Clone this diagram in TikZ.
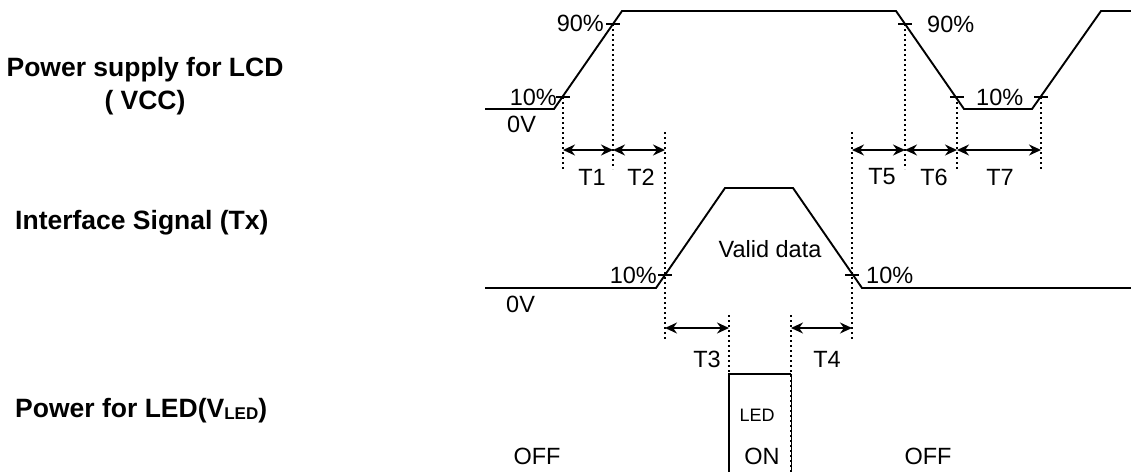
\documentclass[tikz,border=0pt]{standalone}
\usepackage{fontspec}
\setmainfont{Liberation Sans}
\usetikzlibrary{arrows.meta,positioning}

\begin{document}
\begin{tikzpicture}[
    x=1pt, y=-1pt,
    signal/.style={line width=1.9pt, line join=miter},
    guide/.style={line width=1.8pt, dash pattern=on 1.8pt off 3.2pt},
    tick/.style={line width=1.4pt},
    span/.style={{Stealth[length=12pt,width=11pt]}-{Stealth[length=12pt,width=11pt]}, line width=1.6pt},
    lbl/.style={font=\fontsize{23.5}{25}\selectfont, inner sep=0pt},
    small/.style={font=\fontsize{18}{19}\selectfont, inner sep=0pt},
    title/.style={font=\fontsize{26.5}{33}\selectfont\bfseries, inner sep=0pt, align=center}
]
    \useasboundingbox (0,0) rectangle (1131,471);

    % Row titles
    \node[title] (vcctitle) at (145,86) {Power supply for LCD\\( VCC)};
    \node[title, anchor=west] (txtitle) at (15,223) {Interface Signal (Tx)};
    \node[title, anchor=west] (ledtitle) at (15,411) {Power for LED(V\raisebox{-1.5pt}{\fontsize{17}{17}\selectfont LED})};

    % Power supply for LCD
    \coordinate (v0) at (485,109);
    \coordinate (v1) at (554,109);
    \coordinate (v2) at (622,11);
    \coordinate (v3) at (896,11);
    \coordinate (v4) at (964,109);
    \coordinate (v5) at (1032,109);
    \coordinate (v6) at (1101,11);
    \coordinate (v7) at (1131,11);
    \draw[signal] (v0) -- (v1) -- (v2) -- (v3) -- (v4) -- (v5) -- (v6) -- (v7);

    \coordinate (r10) at (563,97);
    \coordinate (r90) at (613,24);
    \coordinate (f90) at (905,24);
    \coordinate (f10) at (957,97);
    \coordinate (q10) at (1041,97);
    \foreach \p in {r10,r90,f90,f10,q10}
        \draw[tick] ([xshift=-7pt]\p) -- ([xshift=7pt]\p);

    \node[lbl, anchor=east] (r10lbl) at (557,97) {10\%};
    \node[lbl, anchor=east] (r90lbl) at (604,23) {90\%};
    \node[lbl, anchor=west] (f90lbl) at (927,24) {90\%};
    \node[lbl, anchor=west] (f10lbl) at (976,97) {10\%};
    \node[lbl, anchor=west] (v0lbl) at (507,124) {0V};

    % Interface signal
    \coordinate (s0) at (485,288);
    \coordinate (s1) at (656,288);
    \coordinate (s2) at (725,188);
    \coordinate (s3) at (793,188);
    \coordinate (s4) at (862,288);
    \coordinate (s5) at (1131,288);
    \draw[signal] (s0) -- (s1) -- (s2) -- (s3) -- (s4) -- (s5);

    \coordinate (s10) at (665,275);
    \coordinate (t10) at (852,275);
    \foreach \p in {s10,t10}
        \draw[tick] ([xshift=-7pt]\p) -- ([xshift=7pt]\p);

    \node[lbl, anchor=east] (s10lbl) at (657,275) {10\%};
    \node[lbl, anchor=west] (t10lbl) at (866,275) {10\%};
    \node[lbl, anchor=west] (s0lbl) at (506,304) {0V};
    \node[lbl] (valid) at (770,249) {Valid data};

    % LED power
    \coordinate (ledtl) at (729,374);
    \coordinate (ledtr) at (791,374);
    \coordinate (ledbl) at (729,474);
    \coordinate (ledbr) at (791,474);
    \draw[line width=1.6pt] (ledbl) -- (ledtl) -- (ledtr);
    \draw[line width=0.9pt] (ledtr) -- (ledbr);
    \node[small] (ledlbl) at (757,415) {LED};
    \node[lbl] (onlbl) at (762,456) {ON};
    \node[lbl] (off1) at (537,456) {OFF};
    \node[lbl] (off2) at (928,456) {OFF};

    % Guide lines
    \coordinate (gtop) at (0,132);
    \coordinate (gbot) at (0,169);
    \coordinate (gmid) at (0,340);
    \coordinate (gled) at (0,315);
    \foreach \p in {r10,r90,f90,f10,q10}
        \draw[guide] (\p) -- (\p |- gbot);
    \draw[guide] (s10 |- gtop) -- (s10 |- gmid);
    \draw[guide] (t10 |- gtop) -- (t10 |- gmid);
    \draw[guide] (ledtl |- gled) -- (ledtl);
    \draw[guide] (ledtr |- gled) -- (ledbr);

    % Timing spans
    \coordinate (row1) at (0,150);
    \coordinate (row2) at (0,328);
    \draw[span] (r10 |- row1) -- (r90 |- row1);
    \draw[span] (r90 |- row1) -- (s10 |- row1);
    \draw[span] (t10 |- row1) -- (f90 |- row1);
    \draw[span] (f90 |- row1) -- (f10 |- row1);
    \draw[span] (f10 |- row1) -- (q10 |- row1);
    \draw[span] (s10 |- row2) -- (ledtl |- row2);
    \draw[span] (ledtr |- row2) -- (t10 |- row2);

    \node[lbl] (t1) at (592,177) {T1};
    \node[lbl] (t2) at (641,177) {T2};
    \node[lbl] (t5) at (882,177) {T5};
    \node[lbl] (t6) at (934,177) {T6};
    \node[lbl] (t7) at (1000,177) {T7};
    \node[lbl] (t3) at (707,359) {T3};
    \node[lbl] (t4) at (827,359) {T4};
\end{tikzpicture}
\end{document}
